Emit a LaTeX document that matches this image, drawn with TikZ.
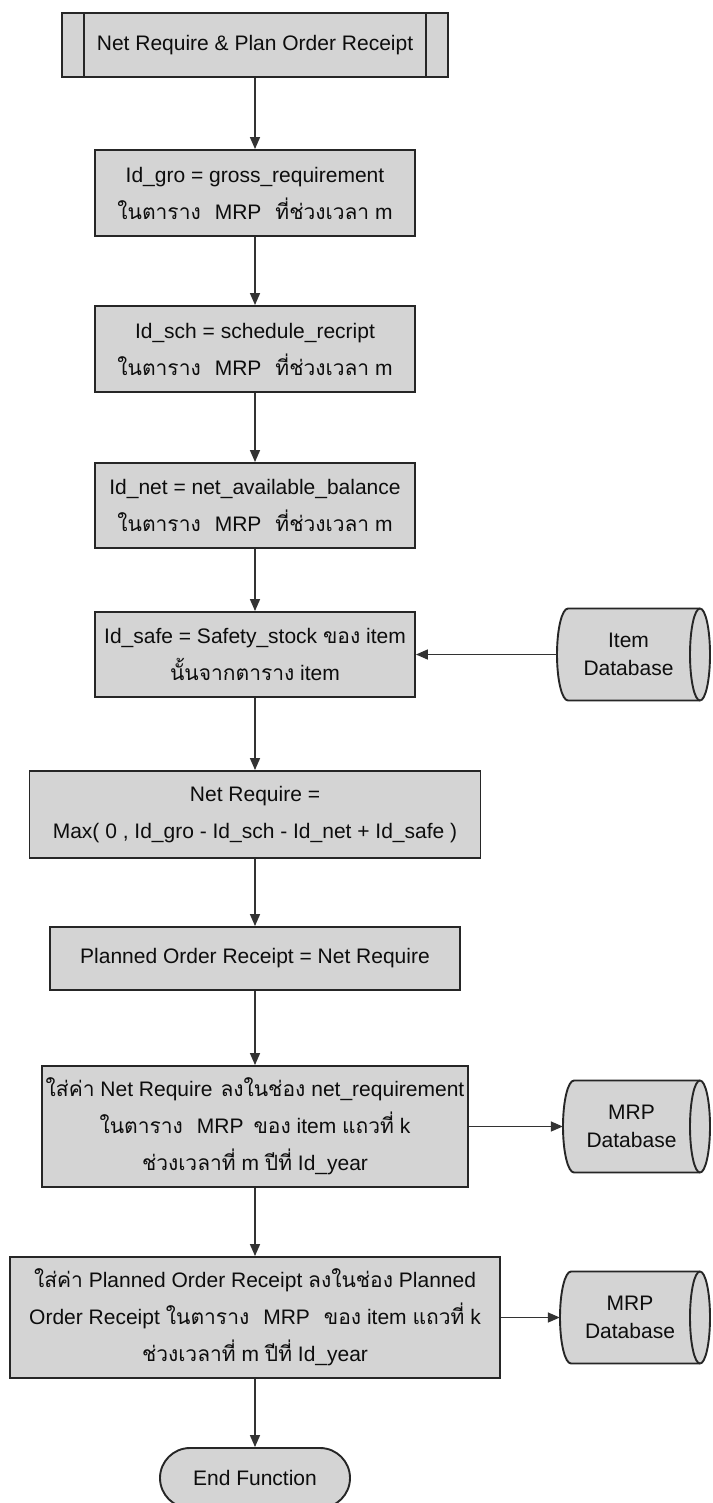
\documentclass[tikz,border=0pt]{standalone}
\usepackage{fontspec}
\setmainfont{Liberation Sans}
\newfontfamily\thaifnt[Script=Thai]{Loma}
\usetikzlibrary{arrows.meta,calc}

% storage drum: name, left x, centre y, label
\newcommand\dbdrum[4]{%
  \filldraw[dbline] ({#2+11},{#3+46}) -- (700,{#3+46})
    arc[start angle=90,end angle=-90,x radius=10,y radius=46]
    -- ({#2+11},{#3-46})
    arc[start angle=-90,end angle=-270,x radius=11,y radius=46] -- cycle;
  \draw[dbline] (700,{#3+46}) arc[start angle=90,end angle=270,x radius=10,y radius=46];
  \node[dbtext, minimum width={700-#2}, minimum height=92] (#1) at ({(#2+700)/2},#3) {#4};
}

\begin{document}
\begin{tikzpicture}[x=1pt,y=1pt,
  box/.style={draw=black!85, line width=1.9pt, fill=black!17, align=center,
    inner sep=0pt, text=black!95, font=\fontsize{21}{37}\selectfont},
  boxline/.style={draw=black!85, line width=1.9pt},
  dbline/.style={draw=black!85, line width=1.9pt, fill=black!17},
  dbtext/.style={align=center, inner sep=0pt, text=black!95,
    font=\fontsize{21}{28}\selectfont},
  flow/.style={draw=black!80, line width=1.5pt, -{Triangle[length=12pt,width=10pt]}}]

\clip (0,0) rectangle (712,-1503);
\fill[white] (0,0) rectangle (712,-1503);

% predefined process
\node[box, minimum width=386, minimum height=64] (start) at (255,-45)
  {Net Require \& Plan Order Receipt};
\draw[boxline] ([xshift=23pt]start.north west) -- ([xshift=23pt]start.south west);
\draw[boxline] ([xshift=-23pt]start.north east) -- ([xshift=-23pt]start.south east);

\node[box, minimum width=320, minimum height=86] (gro) at (255,-193)
  {Id\_gro = gross\_requirement\\
   {\thaifnt ในตาราง}\hspace{14pt}MRP\hspace{14pt}{\thaifnt ที่ช่วงเวลา} m};

\node[box, minimum width=320, minimum height=86] (sch) at (255,-349)
  {Id\_sch = schedule\_recript\\
   {\thaifnt ในตาราง}\hspace{14pt}MRP\hspace{14pt}{\thaifnt ที่ช่วงเวลา} m};

\node[box, minimum width=320, minimum height=85] (net) at (255,-505.5)
  {Id\_net = net\_available\_balance\\
   {\thaifnt ในตาราง}\hspace{14pt}MRP\hspace{14pt}{\thaifnt ที่ช่วงเวลา} m};

\node[box, minimum width=320, minimum height=85] (safe) at (255,-654.5)
  {Id\_safe = Safety\_stock {\thaifnt ของ} item\\
   {\thaifnt นั้นจากตาราง} item};

\node[box, minimum width=451, minimum height=87] (netreq) at (255,-814.5)
  {Net Require =\\
   Max( 0 , Id\_gro - Id\_sch - Id\_net + Id\_safe )};

\node[box, minimum width=410, minimum height=63] (por) at (255,-958.5)
  {Planned Order Receipt = Net Require};

\node[box, minimum width=426, minimum height=121] (putnet) at (255,-1126.5)
  {{\thaifnt ใส่ค่า} Net Require\hspace{8pt}{\thaifnt ลงในช่อง}\hspace{6pt}net\_requirement\\
   {\thaifnt ในตาราง}\hspace{14pt}MRP\hspace{10pt}{\thaifnt ของ} item {\thaifnt แถวที่} k\\
   {\thaifnt ช่วงเวลาที่} m {\thaifnt ปีที่} Id\_year};

\node[box, minimum width=490, minimum height=121] (putpor) at (255,-1317.5)
  {{\thaifnt ใส่ค่า} Planned Order Receipt {\thaifnt ลงในช่อง} Planned\\
   Order Receipt\hspace{6pt}{\thaifnt ในตาราง}\hspace{14pt}MRP\hspace{14pt}{\thaifnt ของ} item {\thaifnt แถวที่} k\\
   {\thaifnt ช่วงเวลาที่} m {\thaifnt ปีที่} Id\_year};

\node[box, rounded corners=30pt, minimum width=190, minimum height=60] (fin) at (255,-1478)
  {End Function};

% data stores
\dbdrum{itemdb}{557}{-654.5}{Item\\Database}
\dbdrum{mrpdba}{563}{-1126.5}{MRP\\Database}
\dbdrum{mrpdbb}{560}{-1317.5}{MRP\\Database}

% main flow
\draw[flow] (start) -- (gro);
\draw[flow] (gro) -- (sch);
\draw[flow] (sch) -- (net);
\draw[flow] (net) -- (safe);
\draw[flow] (safe) -- (netreq);
\draw[flow] (netreq) -- (por);
\draw[flow] (por) -- (putnet);
\draw[flow] (putnet) -- (putpor);
\draw[flow] (putpor) -- (fin);

% data links
\draw[flow] (itemdb) -- (safe);
\draw[flow] (putnet) -- (mrpdba);
\draw[flow] (putpor) -- (mrpdbb);
\end{tikzpicture}
\end{document}
